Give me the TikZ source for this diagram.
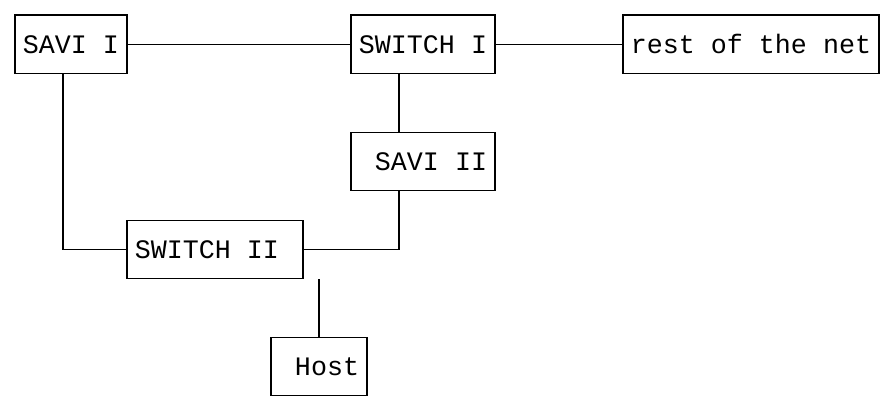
\documentclass[tikz,border=0pt]{standalone}
\usepackage{fontspec}
\setmonofont{Liberation Mono}
\begin{document}
\begin{tikzpicture}[x=1pt,y=-1pt,
  line width=1.1pt,
  box/.style={draw, line width=1.1pt, inner sep=0pt, minimum height=58.6pt,
    font=\ttfamily\fontsize{26.67}{30}\selectfont},
  link/.style={draw, line width=1.1pt}]
\useasboundingbox (0,0) rectangle (882,403);
% boxes
\node[box, minimum width=112pt] (savi1)   at (71,44.3)   {SAVI I};
\node[box, minimum width=144pt] (switch1) at (423,44.3)  {SWITCH I};
\node[box, minimum width=256pt] (rest)    at (751,44.3)  {rest of the net};
\node[box, minimum width=144pt] (savi2)   at (423,161.5) {\phantom{S}SAVI II};
\node[box, minimum width=176pt] (switch2) at (215,249.4) {SWITCH II\phantom{S}};
\node[box, minimum width=96pt]  (host)    at (319,366.6) {\phantom{S}Host};
% guide columns
\coordinate (cA) at (63,0);
\coordinate (cB) at (399,0);
\coordinate (cH) at (319,0);
% connectors
\draw[link] (savi1) -- (switch1);
\draw[link] (switch1) -- (rest);
\draw[link] (switch1.south -| cB) -- (savi2.north -| cB);
\draw[link] (savi2.south -| cB) |- (switch2.east);
\draw[link] (savi1.south -| cA) |- (switch2.west);
\draw[link] (switch2.south -| cH) -- (host.north -| cH);
\end{tikzpicture}
\end{document}
